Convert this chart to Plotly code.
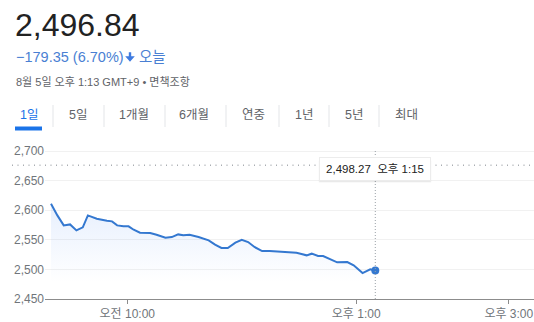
import plotly.graph_objects as go

# ---------------- data ----------------
times = ["09:00", "09:05", "09:10", "09:15", "09:20", "09:25", "09:29", "09:36", "09:44",
         "09:48", "09:52", "09:57", "10:01", "10:05", "10:10", "10:18", "10:23", "10:30",
         "10:35", "10:40", "10:44", "10:49", "10:56", "11:04", "11:09", "11:14", "11:19",
         "11:25", "11:30", "11:35", "11:40", "11:46", "11:52", "12:03", "12:13", "12:21",
         "12:25", "12:30", "12:34", "12:45", "12:53", "12:58", "13:05", "13:11", "13:15"]
values = [2611.0, 2591.3, 2574.4, 2576.1, 2566.0, 2571.1, 2591.3, 2585.7, 2582.3,
          2581.2, 2574.4, 2572.8, 2572.8, 2567.1, 2562.1, 2561.5, 2558.7, 2553.6,
          2554.7, 2559.2, 2557.6, 2558.7, 2554.7, 2549.1, 2541.8, 2536.2, 2536.2,
          2545.2, 2550.2, 2546.3, 2537.9, 2531.1, 2531.1, 2530.0, 2528.3, 2523.8,
          2526.6, 2522.7, 2522.7, 2512.0, 2512.5, 2506.9, 2493.9, 2500.1, 2498.27]
prev_close = 2676.19
y_ticks = [2450, 2500, 2550, 2600, 2650, 2700]
y_ticktext = ["2,450", "2,500", "2,550", "2,600", "2,650", "2,700"]
x_ticks = ["10:00", "13:00", "15:00"]
x_ticktext = ["오전 10:00", "오후 1:00", "오후 3:00"]
tabs = ["1일", "5일", "1개월", "6개월", "연중", "1년", "5년", "최대"]
tab_centers = [29, 77.5, 134, 194, 253, 304, 354, 406]
price_text = "2,496.84"
change_text = "−179.35 (6.70%)"
today_text = "오늘"
info_text = "8월 5일 오후 1:13 GMT+9 • 면책조항"
hover_value = "2,498.27"
hover_time = "오후 1:15"

DATE = "2024-08-05 "
xs = [DATE + t for t in times]

# ---------------- layout geometry ----------------
W, H = 534, 322
L, R, T, B = 45, 0, 144, 23
PW, PH = W - L - R, H - T - B

def px(x):
    return (x - L) / PW

def py(y):
    return 1 - (y - T) / PH

FONT = "Liberation Sans, Arial, Noto Sans CJK KR, sans-serif"
LINE = "#3478d0"
GRAY = "#70757a"
BLUE_TXT = "#4a7fd3"

fig = go.Figure()
fig.add_trace(go.Scatter(
    x=xs, y=values, mode="lines",
    line=dict(color=LINE, width=2),
    fill="tozeroy",
    fillgradient=dict(type="vertical", start=2615, stop=2480,
                      colorscale=[[0, "rgba(66,133,244,0.13)"], [1, "rgba(66,133,244,0)"]]),
    hoverinfo="skip", showlegend=False))
fig.add_trace(go.Scatter(
    x=[xs[-1]], y=[values[-1]], mode="markers",
    marker=dict(color=LINE, size=8), hoverinfo="skip", showlegend=False))

shapes = []
# previous close dotted line
shapes.append(dict(type="line", xref="paper", yref="y", x0=px(12), x1=1,
                   y0=prev_close, y1=prev_close,
                   line=dict(color="#a9adb2", width=1.4, dash="1px,4.5px")))
# hover vertical dotted line
shapes.append(dict(type="line", xref="x", yref="y", x0=xs[-1], x1=xs[-1],
                   y0=2450, y1=2702, line=dict(color="#9aa0a6", width=1, dash="1px,2px")))
# tab separators
for sx in [53, 104, 165, 226, 279, 329, 379]:
    shapes.append(dict(type="line", xref="paper", yref="paper", x0=px(sx), x1=px(sx),
                       y0=py(105), y1=py(127), line=dict(color="#e3e5e8", width=1)))
# active tab underline
shapes.append(dict(type="rect", xref="paper", yref="paper", x0=px(15), x1=px(42),
                   y0=py(130.5), y1=py(126.5), fillcolor="#1a73e8", line=dict(width=0)))
# down arrow
arrow_pts = [(128.8, 52.3), (131.2, 52.3), (131.2, 56.2), (134.8, 56.2), (130, 61.8),
             (125.2, 56.2), (128.8, 56.2)]
path = "M " + " L ".join(f"{px(x):.5f},{py(y):.5f}" for x, y in arrow_pts) + " Z"
shapes.append(dict(type="path", xref="paper", yref="paper", path=path,
                   fillcolor="#3f7be0", line=dict(width=0)))
# tooltip shadow
for off, a in [(2.5, 0.05), (1.5, 0.07)]:
    shapes.append(dict(type="rect", xref="paper", yref="paper",
                       x0=px(320 - off / 2), x1=px(430 + off / 2), y0=py(158 + off), y1=py(180 + off),
                       fillcolor=f"rgba(0,0,0,{a})", line=dict(width=0)))

ann = []
ann.append(dict(text=price_text, x=px(13), y=py(25), xref="paper", yref="paper",
                xanchor="left", yanchor="middle", showarrow=False,
                font=dict(size=32, color="#222222", family=FONT)))
ann.append(dict(text=change_text, x=px(14), y=py(57), xref="paper", yref="paper",
                xanchor="left", yanchor="middle", showarrow=False,
                font=dict(size=14.5, color=BLUE_TXT, family=FONT)))
ann.append(dict(text=today_text, x=px(137), y=py(57), xref="paper", yref="paper",
                xanchor="left", yanchor="middle", showarrow=False,
                font=dict(size=14.5, color=BLUE_TXT, family=FONT)))
ann.append(dict(text=info_text, x=px(14), y=py(81), xref="paper", yref="paper",
                xanchor="left", yanchor="middle", showarrow=False,
                font=dict(size=11, color="#5f6368", family=FONT)))
for i, (t, c) in enumerate(zip(tabs, tab_centers)):
    ann.append(dict(text=t, x=px(c), y=py(115), xref="paper", yref="paper",
                    xanchor="center", yanchor="middle", showarrow=False,
                    font=dict(size=12.5, color="#1a73e8" if i == 0 else "#5f6368", family=FONT)))
# tooltip
ann.append(dict(text=hover_value + "  " + hover_time, x=px(375), y=py(169), xref="paper", yref="paper",
                xanchor="center", yanchor="middle", showarrow=False,
                width=108, height=20, bgcolor="white", bordercolor="#ececec", borderwidth=1,
                font=dict(size=11.5, color="#222222", family=FONT)))

fig.update_layout(
    width=W, height=H, margin=dict(l=L, r=R, t=T, b=B),
    paper_bgcolor="white", plot_bgcolor="white",
    font=dict(family=FONT, color=GRAY, size=12),
    shapes=shapes, annotations=ann,
    xaxis=dict(type="date", range=[DATE + "08:55:17", DATE + "15:19:48"],
               tickvals=[DATE + t for t in x_ticks], ticktext=x_ticktext,
               showgrid=False, zeroline=False, showline=True, linecolor="#8c8c8c", linewidth=1,
               ticks="outside", ticklen=4, tickcolor="#8c8c8c",
               tickfont=dict(size=12, color=GRAY, family=FONT)),
    yaxis=dict(range=[2450, 2712], tickvals=y_ticks, ticktext=y_ticktext,
               showgrid=True, gridcolor="#f1f1f1", zeroline=False, showline=False,
               ticks="", tickfont=dict(size=12, color=GRAY, family=FONT)),
)

fig.write_html("out.html")
